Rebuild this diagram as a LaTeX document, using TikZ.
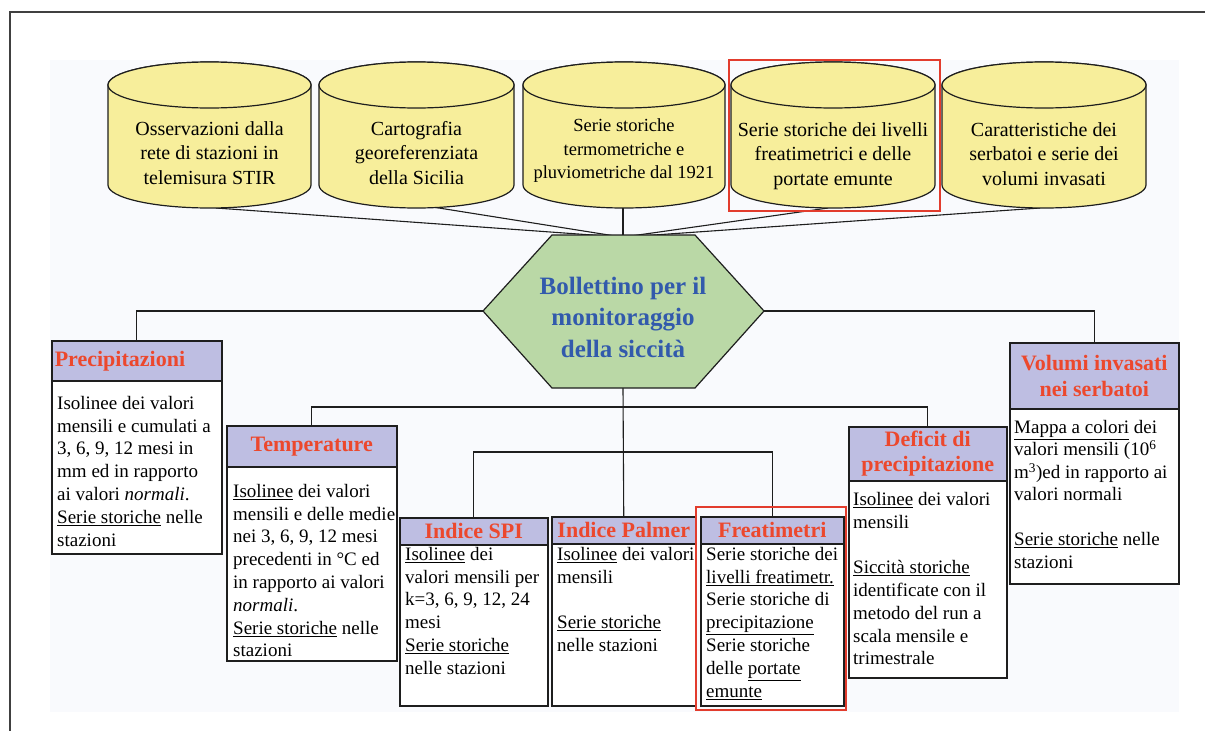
\documentclass[tikz,border=0pt]{standalone}
\usepackage{fontspec}
\setmainfont{Liberation Serif}
\definecolor{cylY}{RGB}{247,238,155}
\definecolor{headC}{RGB}{190,190,226}
\definecolor{headR}{RGB}{236,72,45}
\definecolor{hexG}{RGB}{186,216,166}
\definecolor{hexB}{RGB}{50,90,172}
\definecolor{hlR}{RGB}{226,60,45}
\definecolor{bgC}{RGB}{249,250,253}
\definecolor{lineC}{RGB}{30,30,30}
\tikzset{
  conn/.style={line width=1.1pt, draw=lineC},
  cylst/.style={fill=cylY, draw=lineC, line width=1.2pt},
  cyltext/.style={align=center, inner sep=0pt, font=\fontsize{20}{24.5}\selectfont},
  hexst/.style={fill=hexG, draw=lineC, line width=1.2pt},
  hextext/.style={align=center, inner sep=0pt, text=hexB, font=\fontsize{25}{31.5}\selectfont\bfseries},
  headbox/.style={draw=lineC, line width=1.5pt, fill=headC, inner sep=0pt, anchor=north west,
    font=\fontsize{22}{25.5}\selectfont\bfseries, text=headR, align=center},
  bodybox/.style={draw=lineC, line width=1.5pt, fill=white, anchor=north west, inner sep=0pt},
  bodytext/.style={anchor=north west, inner sep=0pt, align=left, font=\fontsize{19}{22.8}\selectfont},
  hilite/.style={draw=hlR, line width=2.5pt},
}
\begin{document}
\begin{tikzpicture}[x=1pt,y=-1pt]
\useasboundingbox (0,0) rectangle (1205,731);
\fill[white] (0,0) rectangle (1205,731);
% frame and background panel
\fill[bgC] (50,60) rectangle (1179,712);
\draw[line width=1.4pt, draw=black!75] (1205,12) -- (10,12) -- (10,731);

% hexagon coordinates
\coordinate (hexTL) at (552,235);
\coordinate (hexTR) at (695,235);
\coordinate (hexR) at (764,311);
\coordinate (hexBR) at (695,388);
\coordinate (hexBL) at (552,388);
\coordinate (hexL) at (483,311);
\coordinate (hexB) at (623,388);
\coordinate (hexT1) at (606,236);
\coordinate (hexT2) at (615,236);
\coordinate (hexT3) at (623,236);
\coordinate (hexT4) at (631,236);
\coordinate (hexT5) at (640,236);
% cylinder bottoms
\coordinate (cyl1b) at (216,208);
\coordinate (cyl2b) at (420,205);
\coordinate (cyl3b) at (623,208);
\coordinate (cyl4b) at (828,208);
\coordinate (cyl5b) at (1040,208);
% buses
\coordinate (bus1) at (623,407);
\coordinate (bus2) at (623,452);

% boxes (headers and bodies)
\node[headbox, minimum width=170pt, minimum height=40pt, text width=164pt, align=left] (precH) at (51,340) {Precipitazioni};
\node[bodybox, minimum width=170pt, minimum height=173pt] (precB) at (51,380) {};
\node[headbox, minimum width=170pt, minimum height=41pt] (tempH) at (226,425) {Temperature};
\node[bodybox, minimum width=170pt, minimum height=194pt] (tempB) at (226,466) {};
\node[headbox, minimum width=148pt, minimum height=27pt] (spiH) at (399,517) {Indice SPI};
\node[bodybox, minimum width=148pt, minimum height=161pt] (spiB) at (399,544) {};
\node[headbox, minimum width=144pt, minimum height=27pt] (palH) at (551,516) {Indice Palmer};
\node[bodybox, minimum width=144pt, minimum height=162pt] (palB) at (551,543) {};
\node[headbox, minimum width=143pt, minimum height=27pt] (freH) at (700,516) {Freatimetri};
\node[bodybox, minimum width=143pt, minimum height=162pt] (freB) at (700,543) {};
\node[headbox, minimum width=158pt, minimum height=54pt] (defH) at (848,426) {Deficit di\\precipitazione};
\node[bodybox, minimum width=158pt, minimum height=197pt] (defB) at (848,480) {};
\node[headbox, minimum width=169pt, minimum height=66pt] (volH) at (1009,342) {Volumi invasati\\nei serbatoi};
\node[bodybox, minimum width=169pt, minimum height=175pt] (volB) at (1009,408) {};

% connectors
\draw[conn] (cyl1b) -- (hexT1);
\draw[conn] (cyl2b) -- (hexT2);
\draw[conn] (cyl3b) -- (hexT3);
\draw[conn] (cyl4b) -- (hexT4);
\draw[conn] (cyl5b) -- (hexT5);
\draw[conn] (hexL) -| (precH.north);
\draw[conn] (hexR) -| (volH.north);
\draw[conn] (hexB) -- (palH.north);
\draw[conn] (tempH.north) |- (bus1) -| (defH.north);
\draw[conn] (spiH.north) |- (bus2) -| (freH.north);

% cylinders
\foreach \cx/\rx in {209.5/101.5, 416.5/97.5, 624/101, 833/102, 1044/102}{
  \filldraw[cylst] (\cx-\rx,85) -- (\cx-\rx,185) arc[start angle=180, end angle=360, x radius=\rx pt, y radius=23pt]
     -- (\cx+\rx,85) arc[start angle=0, end angle=180, x radius=\rx pt, y radius=23pt] -- cycle;
  \draw[cylst] (\cx,85) ellipse [x radius=\rx pt, y radius=23pt];
}
\node[cyltext] (cyl1) at (209.5,153) {Osservazioni dalla\\rete di stazioni in\\telemisura STIR};
\node[cyltext] (cyl2) at (416.5,153) {Cartografia\\georeferenziata\\della Sicilia};
\node[cyltext, font=\fontsize{18.5}{23.5}\selectfont] (cyl3) at (624,151) {Serie storiche\\termometriche e\\pluviometriche dal 1921};
\node[cyltext] (cyl4) at (833,156) {Serie storiche dei livelli\\freatimetrici e delle\\portate emunte};
\node[cyltext] (cyl5) at (1044,154) {Caratteristiche dei\\serbatoi e serie dei\\volumi invasati};

% hexagon
\filldraw[hexst] (hexTL) -- (hexTR) -- (hexR) -- (hexBR) -- (hexBL) -- (hexL) -- cycle;
\node[hextext] (hex) at (623,317) {Bollettino per il\\monitoraggio\\della siccità};

% body texts
\node[bodytext] (precT) at (57,396) {Isolinee dei valori\\mensili e cumulati a\\3, 6, 9, 12 mesi in\\mm ed in rapporto\\ai valori \textit{normali}.\\\underline{Serie storiche} nelle\\stazioni};
\node[bodytext] (tempT) at (233,484) {\underline{Isolinee} dei valori\\mensili e delle medie\\nei 3, 6, 9, 12 mesi\\precedenti in °C ed\\in rapporto ai valori\\\textit{normali}.\\\underline{Serie storiche} nelle\\stazioni};
\node[bodytext] (spiT) at (405,547) {\underline{Isolinee} dei\\valori mensili per\\k=3, 6, 9, 12, 24\\mesi\\\underline{Serie storiche}\\nelle stazioni};
\node[bodytext] (palT) at (557,547) {\underline{Isolinee} dei valori\\mensili\\~\\\underline{Serie storiche}\\nelle stazioni};
\node[bodytext] (freT) at (706,547) {Serie storiche dei\\\underline{livelli freatimetr.}\\Serie storiche di\\\underline{precipitazione}\\Serie storiche\\delle \underline{portate}\\\underline{emunte}};
\node[bodytext] (defT) at (853,492) {\underline{Isolinee} dei valori\\mensili\\~\\\underline{Siccità storiche}\\identificate con il\\metodo del run a\\scala mensile e\\trimestrale};
\node[bodytext, font=\fontsize{19}{22.5}\selectfont] (volT) at (1014,420) {\underline{Mappa a colori} dei\\valori mensili (10\textsuperscript{6}\\m\textsuperscript{3})ed in rapporto ai\\valori normali\\~\\\underline{Serie storiche} nelle\\stazioni};

% highlight rectangles
\draw[hilite] (729,60) rectangle (940,211);
\draw[hilite] (696,507) rectangle (846,710);
\end{tikzpicture}
\end{document}
